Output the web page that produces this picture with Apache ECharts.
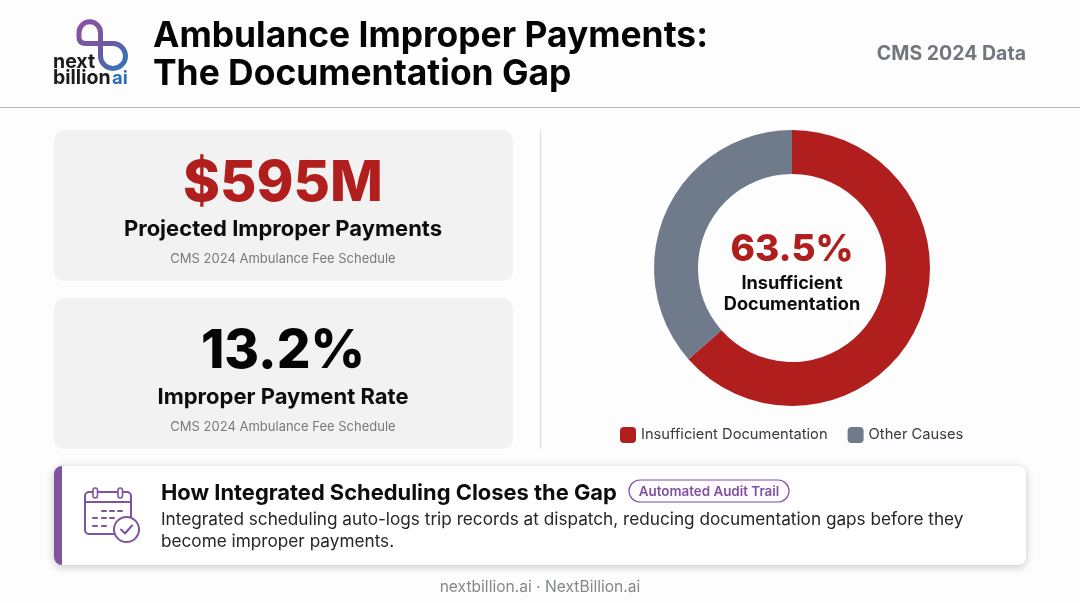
<!DOCTYPE html>
<html>
<head>
<meta charset="utf-8">
<style>
html, body { margin: 0; padding: 0; background: #fdfdfd; }
#main { width: 1080px; height: 603px; }
</style>
<script src="https://cdn.jsdelivr.net/npm/echarts@6/dist/echarts.min.js"></script>
</head>
<body>
<div id="main"></div>
<script>
var causeNames = ['Insufficient Documentation', 'Other Causes'];
var causeValues = [63.5, 36.5];
var causeColors = ['#b01e1e', '#6f7a8a'];
var titleLines = ['Ambulance Improper Payments:', 'The Documentation Gap'];
var statValues = ['$595M', '13.2%'];
var statLabels = ['Projected Improper Payments', 'Improper Payment Rate'];
var statSource = 'CMS 2024 Ambulance Fee Schedule';
var noteLines = ['Integrated scheduling auto-logs trip records at dispatch, reducing documentation gaps before they', 'become improper payments.'];

var fontName = 'Inter, "Noto Sans", sans-serif';
var purple = '#7f539f';

// graphic has no plain path type, so the logo loop is registered as a shape
echarts.graphic.registerShape('logoLoop', echarts.graphic.extendPath(
    'M113 43.5 L86 43.5 Q79 43.5 79 37 L79 32.5 A10.75 10.75 0 0 1 100.5 32.5 L100.5 56 A12.5 12.5 0 1 0 113 43.5', {}
));

function txt(text, x, y, size, weight, color, align) {
    return {
        type: 'text',
        z: 10,
        style: {
            text: text,
            x: x,
            y: y,
            font: weight + ' ' + size + 'px ' + fontName,
            fill: color,
            textAlign: align || 'left',
            textVerticalAlign: 'middle'
        }
    };
}

function line(x1, y1, x2, y2, color, width) {
    return {
        type: 'line',
        z: 10,
        shape: { x1: x1, y1: y1, x2: x2, y2: y2 },
        style: { stroke: color, lineWidth: width, lineCap: 'round' }
    };
}

function statCard(y, value, valueSize, valueColor, label) {
    return [
        {
            type: 'rect',
            z: 1,
            shape: { x: 54, y: y, width: 459, height: 151, r: 10 },
            style: { fill: '#f2f2f2' }
        },
        txt(value, 283, y + 54, valueSize, 800, valueColor, 'center'),
        txt(label, 283, y + 99, 22, 700, '#0d0d0d', 'center'),
        txt(statSource, 283, y + 129.5, 13, 400, '#77797d', 'center')
    ];
}

var elements = [
    // header
    txt(titleLines[0], 153, 36, 35.4, 700, '#050505'),
    txt(titleLines[1], 153, 74, 35.4, 700, '#050505'),
    txt('CMS 2024 Data', 1026, 54, 19.5, 700, '#72767e', 'right'),
    line(0, 107.5, 1080, 107.5, '#b5b5b5', 1),
    // logo
    {
        type: 'logoLoop',
        z: 10,
        style: {
            fill: null,
            lineWidth: 5,
            stroke: new echarts.graphic.LinearGradient(0, 0, 1, 1, [
                { offset: 0, color: '#8f4fa3' },
                { offset: 0.5, color: '#70599f' },
                { offset: 1, color: '#2a78bd' }
            ])
        }
    },
    txt('next', 53, 62, 19.5, 700, '#1b1b1f'),
    txt('billion', 53, 78, 19.5, 700, '#1b1b1f'),
    txt('ai', 112, 78, 18.5, 700, '#2a70b3'),
    // divider
    line(540.5, 130, 540.5, 448, '#dddddd', 1.2),
    // centre of donut
    txt(causeValues[0].toFixed(1) + '%', 792, 250, 37, 800, '#b01e1e', 'center'),
    txt('Insufficient', 792, 284, 18.2, 700, '#0d0d0d', 'center'),
    txt('Documentation', 792, 305, 18.2, 700, '#0d0d0d', 'center'),
    // bottom card
    {
        type: 'rect',
        z: 1,
        shape: { x: 54, y: 466, width: 972, height: 99, r: 8 },
        style: { fill: '#ffffff', shadowBlur: 8, shadowColor: 'rgba(0,0,0,0.22)', shadowOffsetY: 2 }
    },
    {
        type: 'rect',
        z: 2,
        shape: { x: 54, y: 466, width: 8, height: 99, r: [8, 0, 0, 8] },
        style: { fill: purple }
    },
    txt('How Integrated Scheduling Closes the Gap', 161, 493, 21.9, 700, '#0d0d0d'),
    {
        type: 'rect',
        z: 3,
        shape: { x: 629, y: 480, width: 160, height: 22, r: 11 },
        style: { fill: '#fdfbfe', stroke: purple, lineWidth: 1.2 }
    },
    txt('Automated Audit Trail', 709, 492, 13.4, 600, purple, 'center'),
    txt(noteLines[0], 161, 520, 17.2, 400, '#25252a'),
    txt(noteLines[1], 161, 542, 17.2, 400, '#25252a'),
    // calendar icon
    {
        type: 'rect',
        z: 10,
        shape: { x: 85, y: 492, width: 46, height: 42, r: 4 },
        style: { fill: null, stroke: purple, lineWidth: 2 }
    },
    line(85, 502, 131, 502, purple, 2),
    {
        type: 'rect',
        z: 11,
        shape: { x: 93, y: 488, width: 4.5, height: 10, r: 2.2 },
        style: { fill: '#ffffff', stroke: purple, lineWidth: 1.6 }
    },
    {
        type: 'rect',
        z: 11,
        shape: { x: 118, y: 488, width: 4.5, height: 10, r: 2.2 },
        style: { fill: '#ffffff', stroke: purple, lineWidth: 1.6 }
    },
    line(102, 511, 106, 511, purple, 2),
    line(110, 511, 114, 511, purple, 2),
    line(118, 511, 122, 511, purple, 2),
    line(93, 518, 97, 518, purple, 2),
    line(102, 518, 106, 518, purple, 2),
    line(110, 518, 114, 518, purple, 2),
    line(93, 526, 97, 526, purple, 2),
    line(102, 526, 106, 526, purple, 2),
    {
        type: 'circle',
        z: 12,
        shape: { cx: 126.5, cy: 529.5, r: 12.5 },
        style: { fill: '#ffffff', stroke: purple, lineWidth: 2 }
    },
    {
        type: 'polyline',
        z: 13,
        shape: { points: [[121, 529.5], [125, 533.5], [132, 525.5]] },
        style: { fill: null, stroke: purple, lineWidth: 2, lineCap: 'round', lineJoin: 'round' }
    },
    // footer
    txt('nextbillion.ai · NextBillion.ai', 540, 587, 15.6, 400, '#85878b', 'center')
];

elements = elements.concat(
    statCard(130, statValues[0], 56, '#b01e1e', statLabels[0]),
    statCard(298, statValues[1], 53, '#050505', statLabels[1])
);

var pieData = [];
for (var i = 0; i < causeNames.length; i++) {
    pieData.push({ name: causeNames[i], value: causeValues[i], itemStyle: { color: causeColors[i] } });
}

var chart = echarts.init(document.getElementById('main'), null, { renderer: 'canvas' });
chart.setOption({
    animation: false,
    backgroundColor: '#fdfdfd',
    textStyle: { fontFamily: fontName },
    legend: {
        data: causeNames,
        left: 620,
        top: 427,
        padding: 0,
        itemWidth: 16,
        itemHeight: 16,
        itemGap: 20,
        icon: 'roundRect',
        textStyle: { fontSize: 14.7, color: '#3a3a40', fontFamily: fontName }
    },
    series: [{
        type: 'pie',
        center: [792, 268],
        radius: [94, 138],
        startAngle: 90,
        clockwise: true,
        label: { show: false },
        labelLine: { show: false },
        silent: true,
        data: pieData
    }],
    graphic: { elements: elements }
});
</script>
</body>
</html>
